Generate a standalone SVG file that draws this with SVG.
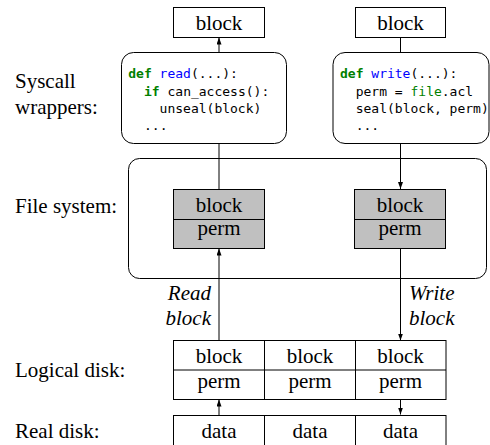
<svg xmlns="http://www.w3.org/2000/svg" width="490" height="445" viewBox="0 0 490 445">
<style>
.box{fill:#fff;stroke:#000;stroke-width:1}
.gray{fill:#c0c0c0;stroke:#000;stroke-width:1}
.ln{stroke:#000;stroke-width:1;fill:none}
.kw{fill:#008000;font-weight:bold}
.fn{fill:#0000ff}
.gr{fill:#008000}
</style>
<defs>
<marker id="ah" markerUnits="userSpaceOnUse" markerWidth="8" markerHeight="6" refX="7" refY="2.5" orient="auto">
<path d="M0,0 L7,2.5 L0,5 z" fill="#000"/>
</marker>
</defs>
<rect width="490" height="445" fill="#fff"/>

<g id="labels">
<text x="15" y="88" font-family="Liberation Serif" font-size="21">Syscall</text>
<text x="15" y="114" font-family="Liberation Serif" font-size="21">wrappers:</text>
<text x="15" y="213" font-family="Liberation Serif" font-size="21">File system:</text>
<text x="15" y="377" font-family="Liberation Serif" font-size="21">Logical disk:</text>
<text x="15" y="438" font-family="Liberation Serif" font-size="21">Real disk:</text>
</g>

<g id="fs-box">
<rect class="box" x="128.5" y="158.5" width="358" height="120" rx="11"/>
</g>

<g id="connectors">
<line class="ln" x1="219" y1="52" x2="219" y2="37.5" marker-end="url(#ah)"/>
<line class="ln" x1="219" y1="143" x2="219" y2="189"/>
<line class="ln" x1="219" y1="341" x2="219" y2="248.5" marker-end="url(#ah)"/>
<line class="ln" x1="219" y1="415" x2="219" y2="399.5" marker-end="url(#ah)"/>
<line class="ln" x1="400.5" y1="37" x2="400.5" y2="52"/>
<line class="ln" x1="400.5" y1="143" x2="400.5" y2="189" marker-end="url(#ah)"/>
<line class="ln" x1="400.5" y1="248" x2="400.5" y2="340.5" marker-end="url(#ah)"/>
<line class="ln" x1="400.5" y1="399" x2="400.5" y2="414.5" marker-end="url(#ah)"/>
<text x="211" y="300" text-anchor="end" font-family="Liberation Serif" font-size="21" font-style="italic">Read</text>
<text x="211" y="325" text-anchor="end" font-family="Liberation Serif" font-size="21" font-style="italic">block</text>
<text x="409" y="300" font-family="Liberation Serif" font-size="21" font-style="italic">Write</text>
<text x="409" y="325" font-family="Liberation Serif" font-size="21" font-style="italic">block</text>
</g>

<g id="top-block-left">
<rect class="box" x="173.5" y="7.5" width="91" height="30"/>
<text x="219" y="29.5" text-anchor="middle" font-family="Liberation Serif" font-size="21">block</text>
</g>
<g id="top-block-right">
<rect class="box" x="355.5" y="7.5" width="90" height="30"/>
<text x="400.5" y="29.5" text-anchor="middle" font-family="Liberation Serif" font-size="21">block</text>
</g>

<g id="read-wrapper">
<rect class="box" x="121.5" y="52.5" width="165" height="91" rx="12"/>
<text x="128.3" y="78" font-family="DejaVu Sans Mono" font-size="13"><tspan class="kw">def</tspan> <tspan class="fn">read</tspan>(...):</text>
<text x="144" y="96" font-family="DejaVu Sans Mono" font-size="13"><tspan class="kw">if</tspan> can_access():</text>
<text x="159.6" y="113" font-family="DejaVu Sans Mono" font-size="13">unseal(block)</text>
<text x="144" y="130" font-family="DejaVu Sans Mono" font-size="13">...</text>
</g>

<g id="write-wrapper">
<rect class="box" x="333" y="52.5" width="156" height="91" rx="12"/>
<text x="340" y="78" font-family="DejaVu Sans Mono" font-size="13"><tspan class="kw">def</tspan> <tspan class="fn">write</tspan>(...):</text>
<text x="355.7" y="96" font-family="DejaVu Sans Mono" font-size="13">perm = <tspan class="gr">file</tspan>.acl</text>
<text x="355.7" y="113" font-family="DejaVu Sans Mono" font-size="13">seal(block, perm)</text>
<text x="355.7" y="130" font-family="DejaVu Sans Mono" font-size="13">...</text>
</g>

<g id="fs-left">
<rect class="gray" x="173.5" y="189.5" width="91" height="59"/>
<line class="ln" x1="173.5" y1="219.5" x2="264.5" y2="219.5"/>
<text x="219" y="211.5" text-anchor="middle" font-family="Liberation Serif" font-size="21">block</text>
<text x="219" y="235" text-anchor="middle" font-family="Liberation Serif" font-size="21">perm</text>
</g>
<g id="fs-right">
<rect class="gray" x="354.5" y="189.5" width="91" height="59"/>
<line class="ln" x1="354.5" y1="219.5" x2="445.5" y2="219.5"/>
<text x="400" y="211.5" text-anchor="middle" font-family="Liberation Serif" font-size="21">block</text>
<text x="400" y="235" text-anchor="middle" font-family="Liberation Serif" font-size="21">perm</text>
</g>

<g id="logical-disk">
<rect class="box" x="173.5" y="340.5" width="272.5" height="59"/>
<line class="ln" x1="173.5" y1="370" x2="446" y2="370"/>
<line class="ln" x1="264.5" y1="340.5" x2="264.5" y2="399.5"/>
<line class="ln" x1="355.5" y1="340.5" x2="355.5" y2="399.5"/>
<text x="219" y="363" text-anchor="middle" font-family="Liberation Serif" font-size="21">block</text>
<text x="310" y="363" text-anchor="middle" font-family="Liberation Serif" font-size="21">block</text>
<text x="400.5" y="363" text-anchor="middle" font-family="Liberation Serif" font-size="21">block</text>
<text x="219" y="388" text-anchor="middle" font-family="Liberation Serif" font-size="21">perm</text>
<text x="310" y="388" text-anchor="middle" font-family="Liberation Serif" font-size="21">perm</text>
<text x="400.5" y="388" text-anchor="middle" font-family="Liberation Serif" font-size="21">perm</text>
</g>

<g id="real-disk">
<rect class="box" x="173.5" y="415.5" width="272.5" height="40"/>
<line class="ln" x1="264.5" y1="415.5" x2="264.5" y2="445"/>
<line class="ln" x1="355.5" y1="415.5" x2="355.5" y2="445"/>
<text x="219" y="438" text-anchor="middle" font-family="Liberation Serif" font-size="21">data</text>
<text x="310" y="438" text-anchor="middle" font-family="Liberation Serif" font-size="21">data</text>
<text x="400.5" y="438" text-anchor="middle" font-family="Liberation Serif" font-size="21">data</text>
</g>
</svg>
